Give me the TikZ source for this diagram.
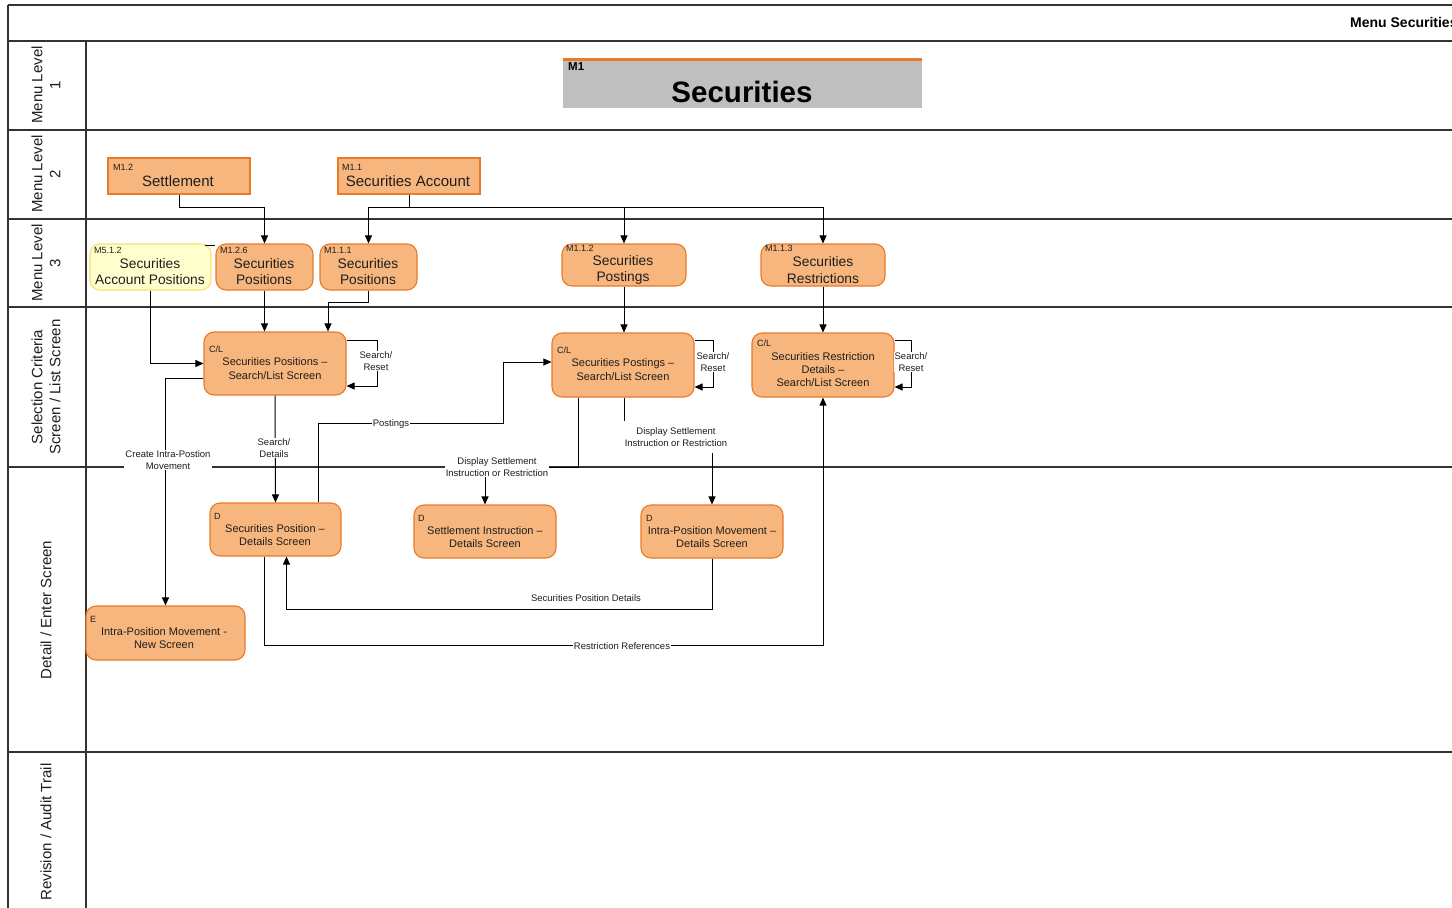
\documentclass[tikz,border=0pt]{standalone}
\usepackage{fontspec}
\setmainfont{Liberation Sans}
\usetikzlibrary{arrows.meta}
\definecolor{boxfill}{RGB}{247,182,125}
\definecolor{boxdraw}{RGB}{232,122,42}
\definecolor{yfill}{RGB}{255,255,206}
\definecolor{ydraw}{RGB}{255,222,110}
\definecolor{txt}{RGB}{30,30,30}
\definecolor{mgray}{RGB}{191,191,191}
\begin{document}
\begin{tikzpicture}[x=1pt,y=-1pt,
  lane/.style={line width=1.3pt, draw=black!80},
  conn/.style={draw=black, line width=1pt},
  arr/.style={conn, -{Triangle[length=8pt,width=7pt]}},
  sbox/.style={rectangle, draw=boxdraw, fill=boxfill, line width=1.1pt, inner sep=0pt},
  rbox/.style={sbox, rounded corners=10pt},
  ybox/.style={rbox, draw=ydraw, fill=yfill},
  tag/.style={font=\fontsize{9}{10}\selectfont, text=txt, inner sep=0pt, anchor=west},
  bigtxt/.style={font=\fontsize{15}{18}\selectfont, text=txt, inner sep=0pt, align=center},
  midtxt/.style={font=\fontsize{13.8}{16.5}\selectfont, text=txt, inner sep=0pt, align=center},
  boxtxt/.style={font=\fontsize{11}{13.3}\selectfont, text=txt, inner sep=0pt, align=center},
  lbl/.style={font=\fontsize{9.5}{12}\selectfont, fill=white, inner sep=1pt, align=center, text=txt},
  lanetitle/.style={rotate=90, font=\fontsize{15}{18}\selectfont, align=center, text=txt, inner sep=0pt}
]
\useasboundingbox (0,0) rectangle (1452,908);
% frame and lanes
\draw[lane] (8,5) -- (1452,5);
\draw[lane] (8,5) -- (8,908);
\draw[lane] (86,41) -- (86,908);
\foreach \yy in {41,130,219,307,467,752} {\draw[lane] (8,\yy) -- (1452,\yy);}
\node[anchor=west, font=\bfseries\fontsize{14}{16}\selectfont, inner sep=0pt] (title) at (1350,22) {Menu Securities};
\node[lanetitle] (l1) at (46,85) {Menu Level\\1};
\node[lanetitle] (l2) at (46,174) {Menu Level\\2};
\node[lanetitle] (l3) at (46,263) {Menu Level\\3};
\node[lanetitle] (l4) at (46,387) {Selection Criteria\\Screen / List Screen};
\node[lanetitle] (l5) at (46,610) {Detail / Enter Screen};
\node[lanetitle] (l6) at (46,832) {Revision / Audit Trail};

% M1
\node[rectangle, fill=mgray, minimum width=359pt, minimum height=49pt, inner sep=0pt] (m1) at (742.5,83.5) {};
\draw[boxdraw, line width=3.2pt] ([yshift=-1pt]m1.north west) -- ([yshift=-1pt]m1.north east);
\node[anchor=west, font=\bfseries\fontsize{11.5}{13}\selectfont, inner sep=0pt] (m1g) at (568,67) {M1};
\node[font=\bfseries\fontsize{29.5}{33}\selectfont, inner sep=0pt] (m1t) at (742,92) {Securities};

% level 2
\node[sbox, minimum width=142pt, minimum height=36pt] (set) at (179,176) {};
\node[tag] (setg) at (113,167) {M1.2};
\node[bigtxt] (sett) at (178,181) {Settlement};
\node[sbox, minimum width=142pt, minimum height=36pt] (acc) at (409,176) {};
\node[tag] (accg) at (342,167) {M1.1};
\node[bigtxt] (acct) at (408,181) {Securities Account};

% level 3
\node[ybox, minimum width=121pt, minimum height=46pt] (ap) at (150.5,267) {};
\node[tag] (apg) at (94,250) {M5.1.2};
\node[midtxt] (apt) at (150,271.5) {Securities\\Account Positions};
\node[rbox, minimum width=97pt, minimum height=46pt] (p126) at (264.5,267) {};
\node[tag] (p126g) at (220,250) {M1.2.6};
\node[midtxt] (p126t) at (264,271.5) {Securities\\Positions};
\node[rbox, minimum width=97pt, minimum height=46pt] (p111) at (368.5,267) {};
\node[tag] (p111g) at (324,250) {M1.1.1};
\node[midtxt] (p111t) at (368,271.5) {Securities\\Positions};
\node[rbox, minimum width=124pt, minimum height=42pt] (p112) at (624,265) {};
\node[tag] (p112g) at (566,248) {M1.1.2};
\node[midtxt] (p112t) at (623,270) {Securities\\Postings};
\node[rbox, minimum width=124pt, minimum height=42pt] (p113) at (823,265) {};
\node[tag] (p113g) at (765,248) {M1.1.3};
\node[midtxt] (p113t) at (823,270) {Securities\\Restrictions};

% selection
\node[rbox, minimum width=142pt, minimum height=63pt] (cl1) at (275,363.5) {};
\node[tag] (cl1g) at (209,349) {C/L};
\node[boxtxt] (cl1t) at (275,368.5) {Securities Positions –\\Search/List Screen};
\node[rbox, minimum width=142pt, minimum height=64pt] (cl2) at (623,365) {};
\node[tag] (cl2g) at (557,350) {C/L};
\node[boxtxt] (cl2t) at (623,369.5) {Securities Postings –\\Search/List Screen};
\node[rbox, minimum width=142pt, minimum height=64pt] (cl3) at (823,365) {};
\node[tag] (cl3g) at (757,343) {C/L};
\node[boxtxt] (cl3t) at (823,369.5) {Securities Restriction\\Details –\\Search/List Screen};

% detail
\node[rbox, minimum width=131pt, minimum height=53pt] (d1) at (275.5,529.5) {};
\node[tag] (d1g) at (214,516) {D};
\node[boxtxt] (d1t) at (275,535) {Securities Position –\\Details Screen};
\node[rbox, minimum width=142pt, minimum height=53pt] (d2) at (485,531.5) {};
\node[tag] (d2g) at (418,518) {D};
\node[boxtxt] (d2t) at (485,537) {Settlement Instruction –\\Details Screen};
\node[rbox, minimum width=142pt, minimum height=53pt] (d3) at (712,531.5) {};
\node[tag] (d3g) at (646,518) {D};
\node[boxtxt] (d3t) at (712,537) {Intra-Position Movement –\\Details Screen};
\node[rbox, minimum width=159pt, minimum height=54pt] (e) at (165.5,633) {};
\node[tag] (eg) at (90,619) {E};
\node[boxtxt] (et) at (164,638) {Intra-Position Movement -\\New Screen};

% level 2 -> 3
\draw[arr] (set.south) -- ++(0,13) -| (p126.north);
\coordinate (bus) at (409,207);
\draw[conn] (acc.south) -- (bus);
\draw[arr] (bus) -| (p111.north);
\draw[arr] (bus) -| (p112.north);
\draw[arr] (bus) -| (p113.north);
\draw[conn] ([xshift=-7pt,yshift=-2pt]ap.north east) -- ([yshift=-2pt]p126.north west);

% level 3 -> selection
\draw[arr] (ap.south) |- (cl1.west);
\draw[arr] (p126.south) -- (p126.south |- cl1.north);
\draw[arr] (p111.south) -- ++(0,12) -| ([xshift=53pt]cl1.north);
\draw[arr] (p112.south) -- (p112.south |- cl2.north);
\draw[arr] (p113.south) -- (cl3.north);

% self loops
\draw[arr] ([yshift=23.5pt]cl1.east) -- ++(31,0) |- ([yshift=-22.5pt]cl1.east);
\node[lbl] (s1) at (376,361) {Search/\\Reset};
\draw[arr] ([yshift=25pt]cl2.east) -- ++(19,0) |- ([yshift=-22pt]cl2.east);
\node[lbl] (s2) at (713,362) {Search/\\Reset};
\draw[arr] ([yshift=25pt]cl3.east) -- ++(17,0) |- ([yshift=-22pt]cl3.east);
\node[lbl] (s3) at (911,362) {Search/\\Reset};

% selection -> detail
\draw[arr] (cl1.south) -- (d1.north);
\node[lbl] (sd) at (274,448) {Search/\\Details};
\draw[arr] ([yshift=-14.5pt]cl1.west) -| (e.north);
\node[lbl] (ci) at (168,460) {Create Intra-Postion\\Movement};
\draw[arr] ([xshift=43pt]d1.north) -- ++(0,-79) -- ++(185,0) |- ([yshift=3pt]cl2.west);
\node[lbl] (po) at (391,424) {Postings};
\draw[arr] ([xshift=-45pt]cl2.south) -- ++(0,70) -| (d2.north);
\node[lbl] (ds1) at (497,467) {Display Settlement\\Instruction or Restriction};
\draw[arr] ([xshift=1pt]cl2.south) -- ++(0,39) -| (d3.north);
\node[lbl, inner ysep=7pt] (ds2) at (676,437) {Display Settlement\\Instruction or Restriction};

% detail connections
\draw[arr] (d3.south) -- ++(0,51) -| ([xshift=11pt]d1.south);
\node[lbl, fill=none] (spd) at (586,598) {Securities Position Details};
\draw[arr] ([xshift=-11pt]d1.south) -- ++(0,89) -| (cl3.south);
\node[lbl] (rr) at (622,646) {Restriction References};
\end{tikzpicture}
\end{document}
